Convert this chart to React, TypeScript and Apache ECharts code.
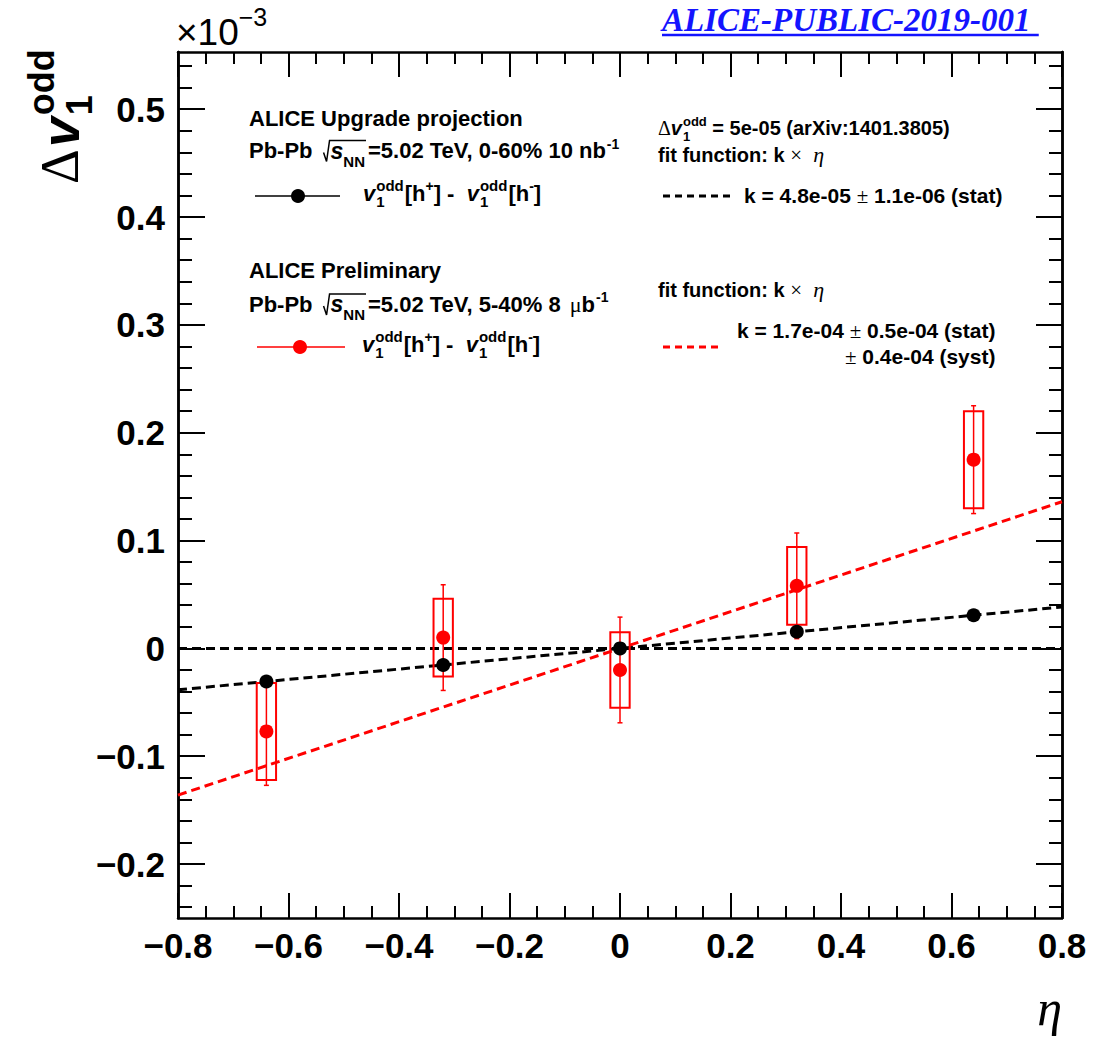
import React, { useEffect, useRef } from 'react';
import * as echarts from 'echarts';

// ---------- data (values in units of 10^-3) ----------
const etaBins = [-0.64, -0.32, 0, 0.32, 0.64];
const upgradeProjection = [-0.0307, -0.0154, 0, 0.0154, 0.0307];
const preliminary = [-0.077, 0.01, -0.02, 0.058, 0.175];
const preliminaryStat = [0.05, 0.049, 0.049, 0.049, 0.05];
const preliminarySyst = [0.045, 0.036, 0.035, 0.036, 0.045];
const zeroLine = [[-0.8, 0], [0.8, 0]];
const upgradeFit = [[-0.8, -0.0384], [0.8, 0.0384]];
const preliminaryFit = [[-0.8, -0.136], [0.8, 0.136]];
const yMajorTicks = [-0.2, -0.1, 0, 0.1, 0.2, 0.3, 0.4, 0.5];
const yMinorTicks = [
  -0.24, -0.22, -0.18, -0.16, -0.14, -0.12, -0.08, -0.06, -0.04, -0.02,
  0.02, 0.04, 0.06, 0.08, 0.12, 0.14, 0.16, 0.18, 0.22, 0.24, 0.26, 0.28,
  0.32, 0.34, 0.36, 0.38, 0.42, 0.44, 0.46, 0.48, 0.52, 0.54,
];

const SANS = "'Liberation Sans', Arial, Helvetica, sans-serif";
const SERIF = "'Liberation Serif', 'Times New Roman', serif";
const RED = '#ff0000';
const CENTRAL = 0.345;
const BOX_HALF = 0.0175;

let measureCtx: CanvasRenderingContext2D | null = null;
function measure(t: string, font: string) {
  if (!measureCtx) measureCtx = document.createElement('canvas').getContext('2d');
  measureCtx!.font = font;
  return measureCtx!.measureText(t).width;
}

type Part = { t: string; s: number; dy?: number; f?: 'sans' | 'serif'; b?: boolean; i?: boolean; stack?: boolean; gap?: number };

function fontStr(p: { s: number; f?: string; b?: boolean; i?: boolean }) {
  return `${p.i ? 'italic ' : ''}${p.b === false ? 'normal' : 'bold'} ${p.s}px ${p.f === 'serif' ? SERIF : SANS}`;
}

function txt(x: number, base: number, t: string, font: string, size: number, color = '#000', align = 'left') {
  return {
    type: 'text',
    x,
    y: base - CENTRAL * size,
    style: { text: t, font, fill: color, align, verticalAlign: 'middle', textAlign: align, textVerticalAlign: 'middle' },
  };
}

function line(parts: Part[], x0: number, base: number, out: any[], color = '#000') {
  let cursor = x0;
  let prevStart = x0;
  const spans: number[][] = [];
  for (const p of parts) {
    const start = p.stack ? prevStart : cursor + (p.gap || 0);
    const font = fontStr(p);
    const w = measure(p.t, font);
    out.push(txt(start, base + (p.dy || 0), p.t, font, p.s, color));
    spans.push([start, start + w]);
    cursor = p.stack ? Math.max(cursor, start + w) : start + w;
    prevStart = start;
  }
  return { spans, end: cursor };
}

function lineWidth(parts: Part[]) {
  const tmp: any[] = [];
  return line(parts, 0, 0, tmp).end;
}

function vOdd(s: number, ss: number, sub: number, sup: number): Part[] {
  return [
    { t: 'v', s, i: true },
    { t: '1', s: ss, dy: sub, gap: 1 },
    { t: 'odd', s: ss, dy: sup, stack: true },
  ];
}

function diffParts(): Part[] {
  return [
    ...vOdd(22, 15, 6, -10),
    { t: '[h', s: 22, gap: 1 },
    { t: '+', s: 14, dy: -10 },
    { t: '] -  ', s: 22 },
    ...vOdd(22, 15, 6, -10),
    { t: '[h', s: 22, gap: 1 },
    { t: '-', s: 14, dy: -10 },
    { t: ']', s: 22 },
  ];
}

function pbLine(rest: Part[], x0: number, base: number, out: any[]) {
  const parts: Part[] = [
    { t: 'Pb-Pb', s: 22 },
    { t: 's', s: 23, i: true, gap: 18 },
    { t: 'NN', s: 15, dy: 8 },
    ...rest,
  ];
  const { spans } = line(parts, x0, base, out);
  const sx = spans[1][0];
  const nnEnd = spans[2][1];
  out.push({
    type: 'polyline',
    shape: { points: [[sx - 7, base - 6], [sx - 4, base + 3], [sx - 1, base - 18], [nnEnd + 1, base - 18]] },
    style: { stroke: '#000', lineWidth: 1.5, fill: 'none' },
  });
}

function buildGraphics() {
  const g: any[] = [];

  // top link
  const linkFont = fontStr({ s: 33, f: 'serif', b: true, i: true });
  const linkText = 'ALICE-PUBLIC-2019-001';
  g.push(txt(662, 31, linkText, linkFont, 33, '#1414ff'));
  const lw = measure(linkText + ' ', linkFont);
  g.push({ type: 'line', shape: { x1: 662, y1: 35, x2: 662 + lw, y2: 35 }, style: { stroke: '#1414ff', lineWidth: 2.5 } });

  // x10^-3
  line([
    { t: '\u00d710', s: 37, b: false },
    { t: '\u22123', s: 25, b: false, dy: -19 },
  ], 176, 45, g);

  // y-axis title (rotated)
  const yt: any[] = [];
  line([
    { t: '\u0394', s: 54, f: 'serif', b: false },
    { t: 'v', s: 54, i: true, gap: 2 },
    { t: '1', s: 36, dy: 13, gap: 2 },
    { t: 'odd', s: 36, dy: -25, stack: true },
  ], 0, 0, yt);
  g.push({ type: 'group', x: 79, y: 184, rotation: Math.PI / 2, children: yt });

  // x-axis title
  g.push(txt(1062, 1025, '\u03b7', fontStr({ s: 50, f: 'serif', b: false, i: true }), 50, '#000', 'right'));

  // left column: upgrade projection
  line([{ t: 'ALICE Upgrade projection', s: 22 }], 249, 126, g);
  pbLine([
    { t: '=5.02 TeV, 0-60% 10 nb', s: 22, gap: 3 },
    { t: '-1', s: 14, dy: -10, gap: 1 },
  ], 249, 158.5, g);
  g.push({ type: 'line', shape: { x1: 255, y1: 196, x2: 340, y2: 196 }, style: { stroke: '#000', lineWidth: 1.5 } });
  g.push({ type: 'circle', shape: { cx: 298, cy: 196, r: 7 }, style: { fill: '#000' } });
  line(diffParts(), 363, 201, g);

  // left column: preliminary
  line([{ t: 'ALICE Preliminary', s: 22 }], 249, 278, g);
  pbLine([
    { t: '=5.02 TeV, 5-40% 8 ', s: 22, gap: 3 },
    { t: '\u03bc', s: 22, f: 'serif', b: false, gap: 3 },
    { t: 'b', s: 22 },
    { t: '-1', s: 14, dy: -10, gap: 1 },
  ], 249, 312, g);
  g.push({ type: 'line', shape: { x1: 257, y1: 347, x2: 345, y2: 347 }, style: { stroke: RED, lineWidth: 1.5 } });
  g.push({ type: 'circle', shape: { cx: 300, cy: 347, r: 7 }, style: { fill: RED } });
  line(diffParts(), 362, 352, g);

  // right column
  line([
    { t: '\u0394', s: 20, f: 'serif', b: false },
    ...vOdd(20, 13, 6, -9),
    { t: ' = 5e-05 (arXiv:1401.3805)', s: 20 },
  ], 658, 135, g);
  const fitParts: Part[] = [
    { t: 'fit function: k ', s: 20 },
    { t: '\u00d7', s: 21, f: 'serif', b: false },
    { t: '  ', s: 20 },
    { t: '\u03b7', s: 22, f: 'serif', b: false, i: true },
  ];
  line(fitParts, 658, 162, g);
  g.push({ type: 'line', shape: { x1: 663, y1: 196, x2: 733, y2: 196 }, style: { stroke: '#000', lineWidth: 3, lineDash: [7, 5] } });
  line([
    { t: 'k = 4.8e-05 ', s: 21 },
    { t: '\u00b1', s: 21, f: 'serif', b: false },
    { t: ' 1.1e-06 (stat)', s: 21 },
  ], 744, 203, g);

  line(fitParts, 658, 297, g);
  g.push({ type: 'line', shape: { x1: 663, y1: 347, x2: 720, y2: 347 }, style: { stroke: RED, lineWidth: 3, lineDash: [7, 5] } });
  const r5 = line([
    { t: 'k = 1.7e-04 ', s: 21 },
    { t: '\u00b1', s: 21, f: 'serif', b: false },
    { t: ' 0.5e-04 (stat)', s: 21 },
  ], 737, 338, g);
  const systParts: Part[] = [
    { t: '\u00b1', s: 21, f: 'serif', b: false },
    { t: ' 0.4e-04 (syst)', s: 21 },
  ];
  line(systParts, r5.end - lineWidth(systParts), 364, g);

  return g;
}

function fmt(v: number) {
  const r = Math.round(v * 10) / 10;
  if (r === 0) return '0';
  return r < 0 ? '\u2212' + Math.abs(r) : String(r);
}

export default function App() {
  const ref = useRef<HTMLDivElement>(null);
  useEffect(() => {
    if (!ref.current) return;
    const chart = echarts.init(ref.current, null, { renderer: 'svg' });
    const axisLine = { show: true, onZero: false, lineStyle: { color: '#000', width: 2.5 } };
    const tickStyle = { color: '#000', width: 2 };
    const labelStyle = { fontSize: 35, fontWeight: 'bold' as const, fontFamily: SANS, color: '#000' };
    const xBase = {
      type: 'value' as const, min: -0.8, max: 0.8, interval: 0.2,
      axisLine, splitLine: { show: false },
      axisTick: { show: true, inside: true, length: 25, lineStyle: tickStyle },
      minorTick: { show: true, splitNumber: 4, length: 12, lineStyle: tickStyle },
    };
    const yBase = {
      type: 'value' as const, min: -0.25, max: 0.553,
      axisLine, splitLine: { show: false },
    };
    const boxData = etaBins.map((x, i) => [x, preliminary[i], preliminaryStat[i], preliminarySyst[i]]);

    chart.setOption({
      animation: false,
      backgroundColor: '#fff',
      grid: { left: 178, top: 52, width: 884, height: 866 },
      xAxis: [
        { ...xBase, position: 'bottom', axisLabel: { ...labelStyle, margin: 10, showMinLabel: true, showMaxLabel: true, formatter: fmt } },
        { ...xBase, position: 'top', axisLabel: { show: false } },
      ],
      yAxis: [
        { ...yBase, position: 'left', axisTick: { show: true, inside: true, length: 27, customValues: yMajorTicks, lineStyle: tickStyle },
          axisLabel: { ...labelStyle, margin: 13, customValues: yMajorTicks, formatter: fmt } },
        { ...yBase, position: 'left', axisTick: { show: true, inside: true, length: 14, customValues: yMinorTicks, lineStyle: tickStyle }, axisLabel: { show: false } },
        { ...yBase, position: 'right', axisTick: { show: true, inside: true, length: 26, customValues: yMajorTicks, lineStyle: tickStyle }, axisLabel: { show: false } },
        { ...yBase, position: 'right', axisTick: { show: true, inside: true, length: 13, customValues: yMinorTicks, lineStyle: tickStyle }, axisLabel: { show: false } },
      ],
      series: [
        { type: 'line', data: zeroLine, symbol: 'none', lineStyle: { color: '#000', width: 3, type: [9, 5] }, z: 2 },
        { type: 'line', data: upgradeFit, symbol: 'none', lineStyle: { color: '#000', width: 3, type: [9, 5] }, z: 2 },
        { type: 'line', data: preliminaryFit, symbol: 'none', lineStyle: { color: RED, width: 3, type: [9, 5] }, z: 3 },
        {
          type: 'custom', data: boxData, encode: { x: 0, y: 1 }, z: 4,
          renderItem: (_p: any, api: any) => {
            const x = api.value(0), y = api.value(1), st = api.value(2), sy = api.value(3);
            const tl = api.coord([x - BOX_HALF, y + sy]);
            const br = api.coord([x + BOX_HALF, y - sy]);
            const et = api.coord([x, y + st]);
            const eb = api.coord([x, y - st]);
            const s = { stroke: RED, lineWidth: 1.5 };
            return {
              type: 'group',
              children: [
                { type: 'rect', shape: { x: tl[0], y: tl[1], width: br[0] - tl[0], height: br[1] - tl[1] }, style: { fill: 'none', stroke: RED, lineWidth: 2 } },
                { type: 'line', shape: { x1: et[0], y1: et[1], x2: eb[0], y2: eb[1] }, style: s },
                { type: 'line', shape: { x1: et[0] - 2.5, y1: et[1], x2: et[0] + 2.5, y2: et[1] }, style: s },
                { type: 'line', shape: { x1: eb[0] - 2.5, y1: eb[1], x2: eb[0] + 2.5, y2: eb[1] }, style: s },
              ],
            };
          },
        },
        { type: 'scatter', data: etaBins.map((x, i) => [x, preliminary[i]]), symbol: 'circle', symbolSize: 14, itemStyle: { color: RED, opacity: 1 }, z: 5 },
        { type: 'scatter', data: etaBins.map((x, i) => [x, upgradeProjection[i]]), symbol: 'circle', symbolSize: 14, itemStyle: { color: '#000', opacity: 1 }, z: 6 },
      ],
      graphic: buildGraphics(),
    });
    return () => chart.dispose();
  }, []);
  return <div ref={ref} style={{ position: 'fixed', left: 0, top: 0, width: 1107, height: 1039, background: '#fff' }} />;
}
